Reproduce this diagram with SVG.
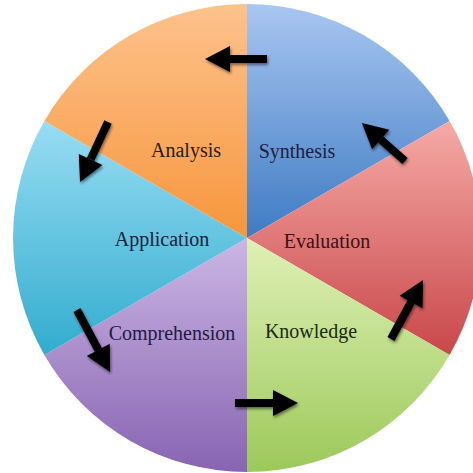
<svg xmlns="http://www.w3.org/2000/svg" width="473" height="473" viewBox="0 0 473 473">
<style>
.lbl{font-family:"Liberation Serif","Times New Roman",serif;font-size:20px;text-anchor:middle}
.arr{stroke:#000;stroke-width:8;fill:none;marker-end:url(#head)}
</style>
<defs>
<linearGradient id="gBlue" x1="0" y1="0" x2="0" y2="1"><stop offset="0" stop-color="#a9c6f1"/><stop offset="1" stop-color="#3e7bc3"/></linearGradient>
<linearGradient id="gRed" x1="0" y1="0" x2="0" y2="1"><stop offset="0" stop-color="#f5aaa6"/><stop offset="1" stop-color="#c9474a"/></linearGradient>
<linearGradient id="gGreen" x1="0" y1="0" x2="0" y2="1"><stop offset="0" stop-color="#dff0b6"/><stop offset="1" stop-color="#9cc95a"/></linearGradient>
<linearGradient id="gPurple" x1="0" y1="0" x2="0" y2="1"><stop offset="0" stop-color="#cbb6e4"/><stop offset="1" stop-color="#8864b2"/></linearGradient>
<linearGradient id="gCyan" x1="0" y1="0" x2="0" y2="1"><stop offset="0" stop-color="#98ddf3"/><stop offset="1" stop-color="#32acce"/></linearGradient>
<linearGradient id="gOrange" x1="0" y1="0" x2="0" y2="1"><stop offset="0" stop-color="#fdc28c"/><stop offset="1" stop-color="#f7963d"/></linearGradient>
<marker id="head" markerUnits="userSpaceOnUse" markerWidth="28" markerHeight="30" refX="0" refY="14" orient="auto" overflow="visible"><path d="M0,1 L25,14 L0,27 z" fill="#000"/></marker>
<filter id="sh" filterUnits="userSpaceOnUse" x="0" y="0" width="473" height="473"><feGaussianBlur in="SourceAlpha" stdDeviation="1.5"/><feOffset dx="1" dy="1.5"/><feComponentTransfer><feFuncA type="linear" slope="0.5"/></feComponentTransfer><feMerge><feMergeNode/><feMergeNode in="SourceGraphic"/></feMerge></filter>
</defs>
<rect width="473" height="473" fill="#fff"/>
<g id="synthesis"><path d="M247,238 L247,4 A234,234 0 0 1 449.6,121 Z" fill="url(#gBlue)"/><text class="lbl" x="297" y="158" fill="#1a2142">Synthesis</text></g>
<g id="evaluation"><path d="M247,238 L449.6,121 A234,234 0 0 1 449.6,355 Z" fill="url(#gRed)"/><text class="lbl" x="327" y="248" fill="#3a1214">Evaluation</text></g>
<g id="knowledge"><path d="M247,238 L449.6,355 A234,234 0 0 1 247,472 Z" fill="url(#gGreen)"/><text class="lbl" x="311" y="338" fill="#1c2a12">Knowledge</text></g>
<g id="comprehension"><path d="M247,238 L247,472 A234,234 0 0 1 44.4,355 Z" fill="url(#gPurple)"/><text class="lbl" x="172" y="340" fill="#221a44">Comprehension</text></g>
<g id="application"><path d="M247,238 L44.4,355 A234,234 0 0 1 44.4,121 Z" fill="url(#gCyan)"/><text class="lbl" x="162" y="246" fill="#12223c">Application</text></g>
<g id="analysis"><path d="M247,238 L44.4,121 A234,234 0 0 1 247,4 Z" fill="url(#gOrange)"/><text class="lbl" x="186" y="157" fill="#2a1a12">Analysis</text></g>
<g id="connectors" filter="url(#sh)">
<line class="arr" x1="267" y1="59" x2="230" y2="59"/>
<line class="arr" x1="405" y1="161" x2="380.7" y2="139.5"/>
<line class="arr" x1="391" y1="339" x2="411.1" y2="302"/>
<line class="arr" x1="235" y1="403" x2="273" y2="403"/>
<line class="arr" x1="77" y1="310" x2="98.3" y2="349.9"/>
<line class="arr" x1="108" y1="122" x2="90.6" y2="159.4"/>
</g>
</svg>
